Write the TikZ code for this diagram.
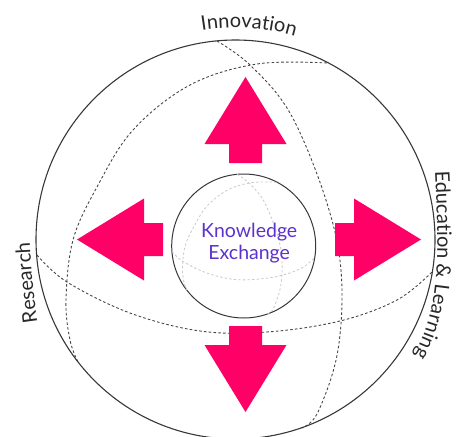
\documentclass[tikz,border=0pt]{standalone}
\usepackage{fontspec}
\setmainfont{Lato}
\usetikzlibrary{decorations.text}

\definecolor{hotpink}{RGB}{255,0,102}
\definecolor{kxviolet}{RGB}{92,50,204}
\definecolor{rimgray}{RGB}{55,55,55}
\definecolor{meridiangray}{RGB}{70,70,70}
\definecolor{faintgray}{RGB}{200,200,200}
\definecolor{labelgray}{RGB}{40,40,40}

\newcommand\labelfont{\fontsize{20}{24}\selectfont}

% the three great-circle traces of the globe (outer sphere coordinates)
\newcommand\globecurves[1]{%
  \draw[#1] plot[smooth, tension=0.6] coordinates
    {(217,-41) (250,-65) (290,-113) (325,-197) (341,-270) (338,-350) (318,-412) (302,-428)};
  \draw[#1] plot[smooth, tension=0.6] coordinates
    {(327,-63) (257,-64) (190,-85) (133,-130) (97,-187) (73,-240) (66,-300) (70,-340) (78,-362)};
  \draw[#1] plot[smooth, tension=0.6] coordinates
    {(37,-255) (67,-282) (130,-313) (200,-331) (267,-332) (340,-321) (397,-300) (432,-272)};
}

\tikzset{
  rim/.style={circle, draw=rimgray, line width=1.1pt, inner sep=0pt},
  globe line/.style={draw=meridiangray, line width=0.9pt, dash pattern=on 2.6pt off 2.2pt},
  faint line/.style={draw=faintgray, line width=0.8pt, dash pattern=on 2.4pt off 2.2pt},
  bigarrow/.pic={\fill[hotpink] (0,-16.5) -- (19,-16.5) -- (19,-41) -- (86,0)
                 -- (19,41) -- (19,16.5) -- (0,16.5) -- cycle;},
}

\begin{document}
\begin{tikzpicture}[x=1pt, y=1pt]
  \useasboundingbox (0,0) rectangle (457,-436);

  % globe meridians and equator
  \globecurves{globe line}

  % the four directions
  \pic at (245.5,-163)  [rotate=90]  {bigarrow};
  \pic at (245.5,-326)  [rotate=-90] {bigarrow};
  \pic at (163,-239.5)  [rotate=180] {bigarrow};
  \pic at (335,-239.5)               {bigarrow};

  % outer sphere
  \node[rim, minimum size=399pt] (globe) at (235.5,-239.5) {};

  % inner sphere with its own faint grid
  \node[rim, minimum size=144pt, line width=1pt] (core) at (243.7,-246) {};
  \begin{scope}[shift={(243.7,-246)}, scale=0.361, shift={(-235.5,239.5)}]
    \globecurves{faint line}
  \end{scope}

  \node[align=center, text=kxviolet, font=\fontsize{19.5}{22.5}\selectfont]
    (kxlabel) at (249.2,-243) {Knowledge\\Exchange};

  % labels around the rim
  \path[decorate, decoration={text along path, text align=center, text color=labelgray,
        text={|\labelfont|Innovation}}]
    (235.5,-239.5) ++(116.4:212) arc[start angle=116.4, end angle=56.4, radius=212];
  \path[decorate, decoration={text along path, text align=left, text color=labelgray,
        text={|\labelfont|Education {\&} Learning}}]
    (435,-171) .. controls (439,-260) and (442,-315) .. (405,-370);
  \path[decorate, decoration={text along path, text align=left, text color=labelgray,
        text={|\labelfont|Research}}]
    (37.5,-322) .. controls (33,-290) and (30,-260) .. (29,-220);
\end{tikzpicture}
\end{document}
